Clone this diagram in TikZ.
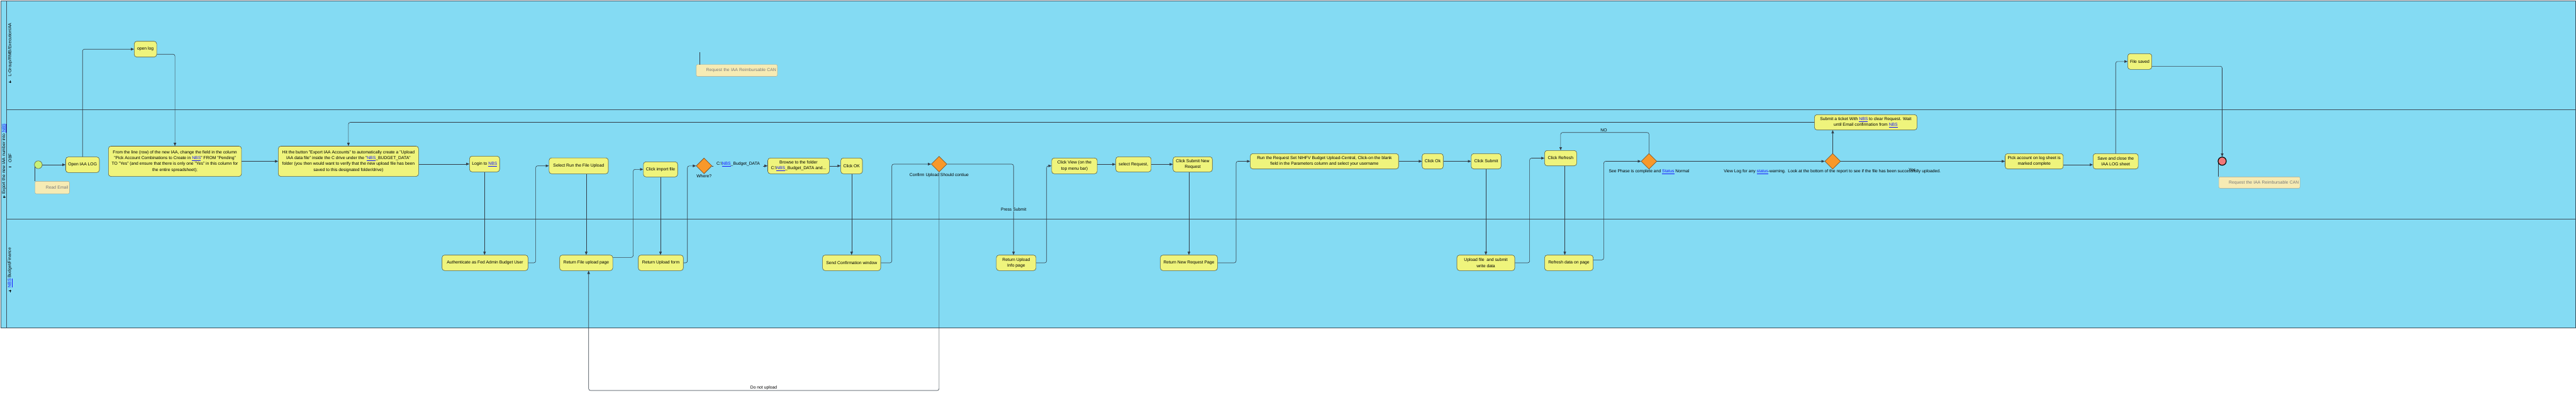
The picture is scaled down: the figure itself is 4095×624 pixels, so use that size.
\documentclass[tikz,border=0pt]{standalone}
\usepackage{fontspec}
\setmainfont{Liberation Sans}
\usetikzlibrary{arrows.meta,shapes.geometric,calc}
\definecolor{lanebg}{RGB}{132,219,243}
\definecolor{laneline}{RGB}{61,79,92}
\definecolor{taskfill}{RGB}{239,244,124}
\definecolor{taskline}{RGB}{90,90,60}
\definecolor{gwfill}{RGB}{248,152,42}
\definecolor{gwline}{RGB}{110,70,30}
\definecolor{startfill}{RGB}{200,240,120}
\definecolor{endfill}{RGB}{240,120,120}
\definecolor{notefill}{RGB}{246,235,180}
\definecolor{noteline}{RGB}{170,165,140}
\definecolor{notetext}{RGB}{120,120,120}
\definecolor{flowline}{RGB}{50,60,70}
\definecolor{linkblue}{RGB}{20,20,255}
\newcommand\lnk[1]{\textcolor{linkblue}{\underline{#1}}}
\newcommand\tfnt{\fontsize{6.8}{9.3}\selectfont}
\tikzset{
  task/.style={draw=taskline, fill=taskfill, rounded corners=4pt, inner sep=0pt, align=center, font=\tfnt, line width=0.6pt},
  gw/.style={diamond, draw=gwline, fill=gwfill, minimum width=25pt, minimum height=25pt, inner sep=0pt, line width=0.6pt},
  annot/.style={draw=noteline, fill=notefill, rounded corners=2pt, inner sep=0pt, font=\tfnt, text=notetext, align=right},
  flow/.style={draw=flowline, line width=0.6pt, -{Triangle[length=5pt,width=4pt]}, rounded corners=3pt},
  assoc/.style={draw=flowline, line width=0.6pt},
  lbl/.style={font=\tfnt, inner sep=0.5pt},
  lanetxt/.style={rotate=90, anchor=west, font=\tfnt, inner sep=0pt},
  pline/.style={draw=laneline, line width=0.9pt},
  icon/.style={draw=black, line width=0.9pt}
}
\begin{document}
\begin{tikzpicture}[x=1pt,y=-1pt]
\useasboundingbox (0,0) rectangle (4095,624);
\fill[white] (0,0) rectangle (4095,624);
% pool and lanes
\fill[lanebg] (1.3,1.6) rectangle (4094,521.3);
\draw[pline] (1.3,1.6) rectangle (4094,521.3);
\draw[pline] (10.7,1.6) -- (10.7,521.3);
\draw[pline] (10.7,174.3) -- (4094,174.3);
\draw[pline] (10.7,348.3) -- (4094,348.3);
% pool and lane labels
\node[lanetxt] (pooltxt) at (6.7,309) {Export the new IAA number into \lnk{NBS}};
\node[lanetxt] (lane1txt) at (16,121.7) {L-Group/RMB/ExecutionIAA};
\node[lanetxt] (lane2txt) at (16,258.3) {OBF};
\node[lanetxt] (lane3txt) at (16,457.6) {\lnk{NBS} Budget/Finance};
\draw[icon] (4.7,313) -- (8.7,313) (6.7,311) -- (6.7,315);
\draw[icon] (14,130) -- (18,130) (16,128) -- (16,132);
\draw[icon] (14,265) -- (18,265);
\draw[icon] (14,462.5) -- (18,462.5) (16,460.5) -- (16,464.5);

% top lane
\node[task, minimum width=35.7pt, minimum height=25pt] (openlog) at (231.2,78.2) {open log};
\node[task, minimum width=38.3pt, minimum height=25pt] (filesaved) at (3401.5,97.8) {File saved};
\node[annot, minimum width=129pt, minimum height=18.6pt, text width=125pt] (note1) at (1171.3,112) {Request the IAA Reimbursable CAN};
\coordinate (n1top) at (1112.3,83.3);

% middle lane
\node[circle, draw=taskline, fill=startfill, minimum size=12.4pt, inner sep=0pt, line width=0.6pt] (start) at (60.9,262) {};
\node[annot, minimum width=54.6pt, minimum height=19.7pt, text width=51pt] (reademail) at (83,298.2) {Read Email};
\node[task, minimum width=53.5pt, minimum height=24.7pt] (openiaa) at (131.2,262) {Open IAA LOG};
\node[task, minimum width=211.6pt, minimum height=48.1pt] (fromline) at (278.1,256.5) {From the line (row) of the new IAA, change the field in the column\\"Pick Account Combinations to Create in \lnk{NBS}" FROM "Pending"\\TO "Yes" (and ensure that there is only one "Yes" in this column for\\the entire spreadsheet);};
\node[task, minimum width=223pt, minimum height=48.1pt] (hit) at (553.9,256.5) {Hit the button "Export IAA Accounts" to automatically create a "Upload\\IAA data file" inside the C drive under the "\lnk{NBS}\_BUDGET\_DATA"\\folder (you then would want to verify that the new upload file has been\\saved to this designated folder/drive)};
\node[task, minimum width=47.8pt, minimum height=25pt] (login) at (770.3,260.8) {Login to \lnk{NBS}};
\node[task, minimum width=94.2pt, minimum height=25.3pt] (selectrun) at (919.9,263.7) {Select Run the File Upload};
\node[task, minimum width=54.4pt, minimum height=24pt] (clickimport) at (1050,269.3) {Click import file};
\node[gw] (where) at (1119.2,263.8) {};
\node[lbl] (wherelbl) at (1119.2,280.5) {Where?};
\node[task, minimum width=97.8pt, minimum height=25pt] (browse) at (1269.4,263.8) {Browse to the folder\\C:\textbackslash\lnk{NBS}\_Budget\_DATA and...};
\node[task, minimum width=34.4pt, minimum height=25pt] (clickok1) at (1353.8,263.8) {Click OK};
\node[gw] (confirm) at (1492.9,261) {};
\node[lbl] (confirmlbl) at (1492.9,278.7) {Confirm Upload Should contiue};
\node[task, minimum width=72.3pt, minimum height=25pt] (clickview) at (1708,263.8) {Click View (on the\\top menu bar)};
\node[task, minimum width=56.2pt, minimum height=24pt] (selectreq) at (1801.8,261.3) {select Request,};
\node[task, minimum width=62.5pt, minimum height=24pt] (clicksubmitnew) at (1896,261.3) {Click Submit New\\Request};
\node[task, minimum width=235.7pt, minimum height=24.4pt] (runreq) at (2105.4,256.5) {Run the Request Set NIHFV Budget Upload-Central, Click-on the blank\\field in the Parameters column and select your username};
\node[task, minimum width=33.5pt, minimum height=24.4pt] (clickok2) at (2277.5,256.5) {Click Ok};
\node[task, minimum width=47.4pt, minimum height=24.4pt] (clicksubmit) at (2362.5,256.5) {Click Submit};
\node[task, minimum width=51pt, minimum height=24.4pt] (clickrefresh) at (2480.9,251.5) {Click Refresh};
\node[gw] (d3) at (2621.4,256.5) {};
\node[lbl] (d3lbl) at (2621.4,273) {See Phase is complete and \lnk{Status} Normal};
\node[gw] (d4) at (2913.4,256.5) {};
\node[lbl] (d4lbl) at (2912.7,273.3) {View Log for any \lnk{status}-warning.\, Look at the bottom of the report to see if the file has been successfully uploaded.};
\node[task, minimum width=163pt, minimum height=24.4pt] (ticket) at (2965.9,194.5) {Submit a ticket With \lnk{NBS} to clear Request. Wait\\until Email confirmation from \lnk{NBS}};
\node[task, minimum width=92.4pt, minimum height=24.4pt] (pick) at (3233.7,256.5) {Pick account on log sheet is\\marked complete};
\node[task, minimum width=71.8pt, minimum height=24.4pt] (saveclose) at (3363.2,256.5) {Save and close the\\IAA LOG sheet};
\node[circle, draw=black, fill=endfill, minimum size=13pt, inner sep=0pt, line width=1.2pt] (endev) at (3532.5,256.3) {};
\node[annot, minimum width=129pt, minimum height=18pt, text width=125pt] (note2) at (3591.7,290.3) {Request the IAA Reimbursable CAN};

% bottom lane
\node[task, minimum width=136.6pt, minimum height=24.6pt] (auth) at (771,418) {Authenticate as Fed Admin Budget User};
\node[task, minimum width=84.4pt, minimum height=24.6pt] (retfile) at (931.9,418) {Return File upload page};
\node[task, minimum width=71.5pt, minimum height=24.6pt] (retupform) at (1050.5,418) {Return Upload form};
\node[task, minimum width=92.4pt, minimum height=24.6pt] (sendconf) at (1353.8,418) {Send Confirmation window};
\node[task, minimum width=63pt, minimum height=24.6pt] (retinfo) at (1615.4,418) {Return Upload\\Info page};
\node[task, minimum width=90.7pt, minimum height=24.6pt] (retnewreq) at (1890,418) {Return New Request Page};
\node[task, minimum width=92pt, minimum height=24.6pt] (uploadfile) at (2362,418) {Upload file\ \ and submit\\write data};
\node[task, minimum width=77.2pt, minimum height=24.6pt] (refreshdata) at (2494,418) {Refresh data on page};

\coordinate (dnu) at (1214,621);
\coordinate (noc) at (2549.5,210.7);

% connectors
\draw[flow] (start) -- (openiaa.west);
\draw[assoc] (start.210) -- (start.210 |- reademail.north);
\draw[assoc] (n1top) -- (n1top |- note1.north);
\draw[flow] (openiaa.north) |- (openlog.west);
\draw[flow] ([yshift=-8pt]openlog.east) -| (fromline.north);
\draw[flow] (fromline.east) -- (hit.west);
\draw[flow] (hit.east |- login.west) -- (login.west);
\draw[flow] (login.south) -- (login.south |- auth.north);
\draw[flow] (auth.east) -- ++(12,0) |- (selectrun.west);
\draw[flow] (selectrun.south -| retfile.north) -- (retfile.north);
\draw[flow] ([yshift=8.7pt]retfile.east) -- ++(32.2,0) |- (clickimport.west);
\draw[flow] (clickimport.south) -- (clickimport.south |- retupform.north);
\draw[flow] (retupform.east) -- ++(6.2,0) |- (where.west);
\draw[flow] (where.east) -- (browse.west);
\node[lbl, fill=lanebg, minimum width=79pt, inner ysep=2pt] (wherecond) at (1173.5,261.5) {C:\textbackslash\lnk{NBS}\_Budget\_DATA};
\draw[flow] (browse.east) -- (clickok1.west);
\draw[flow] (clickok1.south) -- (clickok1.south |- sendconf.north);
\draw[flow] (sendconf.east) -- ++(17.4,0) |- (confirm.west);
\draw[flow] (confirm.east) -| ([xshift=-4.2pt]retinfo.north);
\node[lbl, fill=lanebg] (presslbl) at (1611.2,333.3) {Press Submit};
\draw[flow] (confirm.south) |- (dnu) -| ([xshift=3.8pt]retfile.south);
\node[lbl, anchor=south] (dnulbl) at (dnu) {Do not upload};
\draw[flow] (retinfo.east) -- ++(16.5,0) |- (clickview.west);
\draw[flow] (clickview.east |- selectreq.west) -- (selectreq.west);
\draw[flow] (selectreq.east) -- (clicksubmitnew.west);
\draw[flow] (clicksubmitnew.south -| retnewreq.north) -- (retnewreq.north);
\draw[flow] (retnewreq.east) -- ++(29.3,0) |- (runreq.west);
\draw[flow] (runreq.east) -- (clickok2.west);
\draw[flow] (clickok2.east) -- (clicksubmit.west);
\draw[flow] (clicksubmit.south -| uploadfile.north) -- (uploadfile.north);
\draw[flow] (uploadfile.east) -- ++(23.3,0) |- (clickrefresh.west);
\draw[flow] ([xshift=6.6pt]clickrefresh.south) -- ([xshift=-6.5pt]refreshdata.north);
\draw[flow] ([yshift=4.7pt]refreshdata.east) -- ++(16.5,0) |- (d3.west);
\draw[flow] (d3.north) |- (noc) -| (clickrefresh.north);
\node[lbl, anchor=south] (nolbl) at (noc) {NO};
\draw[flow] (d3.east) -- (d4.west);
\draw[flow] (d4.north) -- (d4.north |- ticket.south);
\draw[flow] (ticket.west) -| (hit.north);
\draw[flow] (d4.east) -- (pick.west);
\node[lbl] (yeslbl) at (3039.7,270) {Yes};
\draw[flow] ([yshift=-5.5pt]pick.east) -- ([yshift=-5.5pt]saveclose.west);
\draw[flow] (saveclose.north) |- (filesaved.west);
\draw[flow] ([yshift=-7.5pt]filesaved.east) -| (endev.north);
\draw[assoc] (endev.214) -- (endev.214 |- note2.north);
\end{tikzpicture}
\end{document}
